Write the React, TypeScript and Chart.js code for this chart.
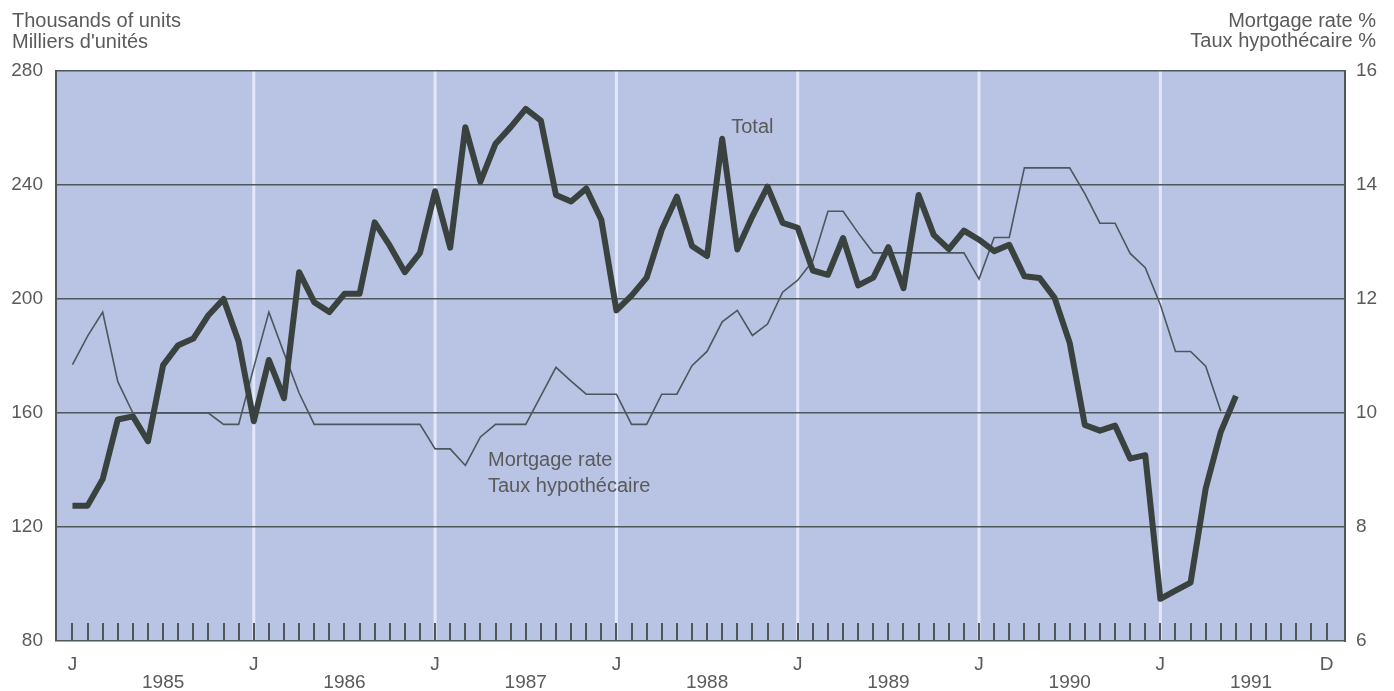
import React, { useEffect, useRef } from 'react';
import { Chart, registerables } from 'chart.js';

Chart.register(...registerables);

// Monthly housing starts (thousands of units), Jan 1985 .. Jun 1991
const housingStarts = [
  127.5, 127.5, 136.8, 157.7, 158.8, 150.1, 176.8, 183.8, 186.1, 194.3, 200.0, 185.0,
  157.1, 178.6, 165.2, 209.4, 198.9, 195.4, 201.8, 201.8, 226.9, 218.7, 209.4, 216.2,
  237.8, 218.0, 260.3, 241.2, 254.5, 260.3, 266.7, 262.6, 236.5, 234.2, 238.8, 227.8,
  196.0, 201.2, 207.5, 224.3, 235.9, 218.6, 215.1, 256.2, 217.4, 229.0, 239.4, 226.7,
  225.0, 210.0, 208.5, 221.4, 204.8, 207.5, 218.2, 203.8, 236.5, 222.5, 217.5, 224.0,
  220.8, 216.8, 219.0, 208.0, 207.4, 200.4, 184.6, 155.8, 153.8, 155.6, 144.0, 145.2,
  94.8, 97.7, 100.5, 133.5, 153.4, 166.0,
];

// Monthly mortgage rate (%), Jan 1985 .. May 1991
const mortgageRate = [
  10.85, 11.35, 11.77, 10.55, 10.0, 10.0, 10.0, 10.0, 10.0, 10.0, 9.8, 9.8,
  10.8, 11.77, 11.05, 10.35, 9.8, 9.8, 9.8, 9.8, 9.8, 9.8, 9.8, 9.8,
  9.37, 9.37, 9.08, 9.58, 9.8, 9.8, 9.8, 10.3, 10.8, 10.56, 10.33, 10.33,
  10.33, 9.8, 9.8, 10.33, 10.33, 10.83, 11.08, 11.6, 11.8, 11.36, 11.56, 12.12,
  12.33, 12.67, 13.54, 13.54, 13.16, 12.81, 12.81, 12.81, 12.81, 12.81, 12.81, 12.81,
  12.35, 13.08, 13.08, 14.3, 14.3, 14.3, 14.3, 13.85, 13.33, 13.33, 12.8, 12.55,
  11.9, 11.08, 11.08, 10.82, 10.03,
];

const januaryMonths = [0, 12, 24, 36, 48, 60, 72];
const decemberMonth = 83;
const yearLabelMonths = [6, 18, 30, 42, 54, 66, 78];
const yearLabels = ['1985', '1986', '1987', '1988', '1989', '1990', '1991'];
const leftTicks = [80, 120, 160, 200, 240, 280];
const rightTicks = [6, 8, 10, 12, 14, 16];
const monthTickCount = 84;

const leftTitle = ['Thousands of units', "Milliers d'unités"];
const rightTitle = ['Mortgage rate %', 'Taux hypothécaire %'];
const totalLabel = { text: 'Total', month: 43.6, value: 258.2 };
const rateLabel = { lines: ['Mortgage rate', 'Taux hypothécaire'], month: 27.5, values: [141.4, 132.3] };

const FONT = "'Liberation Sans', Arial, Helvetica, sans-serif";
const TEXT = '#5a5a5a';
const GRID = '#4e5759';
const BG = '#b9c4e4';

const decorPlugin = {
  id: 'decor',
  beforeDraw(chart: any) {
    const { ctx, chartArea, scales } = chart;
    const { left, top, right, bottom } = chartArea;
    ctx.save();
    ctx.fillStyle = '#ffffff';
    ctx.fillRect(0, 0, chart.width, chart.height);
    ctx.fillStyle = BG;
    ctx.fillRect(left, top, right - left, bottom - top);
    ctx.strokeStyle = 'rgba(228,234,250,0.95)';
    ctx.lineWidth = 3;
    januaryMonths.slice(1).forEach((m) => {
      const px = scales.x.getPixelForValue(m);
      ctx.beginPath();
      ctx.moveTo(px, top);
      ctx.lineTo(px, bottom);
      ctx.stroke();
    });
    ctx.restore();
  },
  beforeDatasetsDraw(chart: any) {
    const { ctx, chartArea, scales } = chart;
    ctx.save();
    ctx.strokeStyle = '#4f5658';
    ctx.lineWidth = 2;
    for (let m = 0; m < monthTickCount; m++) {
      const px = Math.round(scales.x.getPixelForValue(m));
      ctx.beginPath();
      ctx.moveTo(px, chartArea.bottom);
      ctx.lineTo(px, chartArea.bottom - 18);
      ctx.stroke();
    }
    ctx.restore();
  },
  afterDraw(chart: any) {
    const { ctx, scales } = chart;
    ctx.save();
    ctx.fillStyle = TEXT;
    ctx.font = `20px ${FONT}`;
    ctx.textBaseline = 'alphabetic';
    ctx.textAlign = 'left';
    ctx.fillText(leftTitle[0], 12, 27);
    ctx.fillText(leftTitle[1], 12, 48);
    ctx.textAlign = 'right';
    ctx.fillText(rightTitle[0], 1376, 27);
    ctx.fillText(rightTitle[1], 1376, 47);
    ctx.textAlign = 'left';
    ctx.fillText(totalLabel.text, scales.x.getPixelForValue(totalLabel.month), scales.y.getPixelForValue(totalLabel.value));
    rateLabel.lines.forEach((t, i) => {
      ctx.fillText(t, scales.x.getPixelForValue(rateLabel.month), scales.y.getPixelForValue(rateLabel.values[i]));
    });
    ctx.restore();
  },
};

function xLabel(v: number): string | string[] {
  if (januaryMonths.includes(v)) return 'J';
  if (v === decemberMonth) return 'D';
  const yi = yearLabelMonths.indexOf(v);
  if (yi >= 0) return ['', yearLabels[yi]];
  return '';
}

export default function App() {
  const canvasRef = useRef<HTMLCanvasElement | null>(null);

  useEffect(() => {
    if (!canvasRef.current) return;
    const tickFont = { family: FONT, size: 19, lineHeight: 0.95 };
    const chart = new Chart(canvasRef.current, {
      type: 'line',
      data: {
        datasets: [
          {
            label: 'Total',
            data: housingStarts.map((v, i) => ({ x: i, y: v })),
            yAxisID: 'y',
            borderColor: '#3a423f',
            borderWidth: 6,
            borderJoinStyle: 'round',
            pointRadius: 0,
            tension: 0,
            fill: false,
          },
          {
            label: 'Mortgage rate',
            data: mortgageRate.map((v, i) => ({ x: i, y: v })),
            yAxisID: 'y1',
            borderColor: '#4c565e',
            borderWidth: 1.6,
            pointRadius: 0,
            tension: 0,
            fill: false,
          },
        ],
      },
      options: {
        animation: false,
        responsive: false,
        devicePixelRatio: 1,
        layout: { padding: { top: 71, left: 0, right: 0, bottom: 0 } },
        plugins: { legend: { display: false }, tooltip: { enabled: false } },
        scales: {
          x: {
            type: 'linear',
            min: -1.09,
            max: 84.22,
            grid: { display: false },
            border: { display: false },
            afterBuildTicks: (s: any) => {
              const vals = [...januaryMonths, decemberMonth, ...yearLabelMonths].sort((a, b) => a - b);
              s.ticks = vals.map((v) => ({ value: v }));
            },
            afterFit: (s: any) => { s.height = 50; },
            ticks: {
              autoSkip: false,
              maxRotation: 0,
              minRotation: 0,
              padding: 7,
              color: TEXT,
              font: tickFont,
              callback: (v: any) => xLabel(Number(v)),
            },
          },
          y: {
            type: 'linear',
            position: 'left',
            min: 80,
            max: 280,
            afterBuildTicks: (s: any) => { s.ticks = leftTicks.map((v) => ({ value: v })); },
            afterFit: (s: any) => { s.width = 56; },
            grid: { color: GRID, lineWidth: 1.6, drawTicks: false },
            border: { display: true, color: GRID, width: 2 },
            ticks: { padding: 13, color: TEXT, font: tickFont },
          },
          y1: {
            type: 'linear',
            position: 'right',
            min: 6,
            max: 16,
            afterBuildTicks: (s: any) => { s.ticks = rightTicks.map((v) => ({ value: v })); },
            afterFit: (s: any) => { s.width = 49; },
            grid: { display: false, drawTicks: false },
            border: { display: true, color: GRID, width: 2 },
            ticks: { padding: 11, color: TEXT, font: tickFont },
          },
        },
      } as any,
      plugins: [decorPlugin],
    });
    return () => chart.destroy();
  }, []);

  return (
    <div style={{ position: 'absolute', left: 0, top: 0, width: 1394, height: 691, background: '#fff' }}>
      <canvas ref={canvasRef} width={1394} height={691} style={{ width: 1394, height: 691, display: 'block' }} />
    </div>
  );
}
